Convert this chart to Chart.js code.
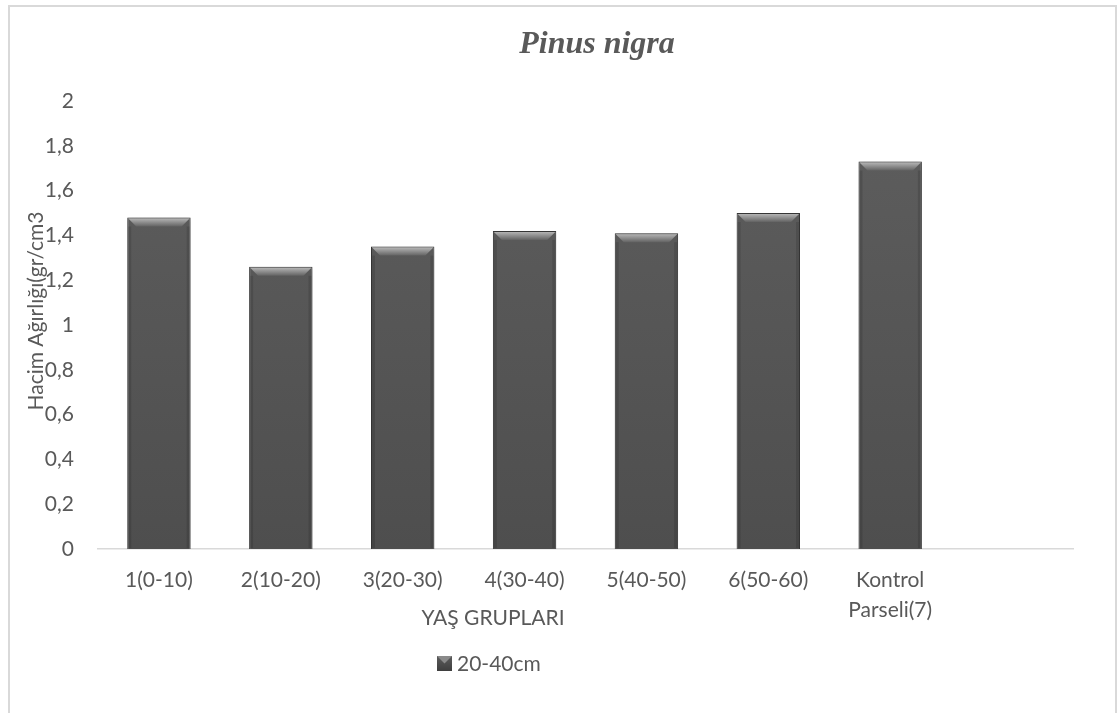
<!DOCTYPE html>
<html>
<head>
<meta charset="utf-8">
<title>Pinus nigra</title>
<script src="https://cdn.jsdelivr.net/npm/chart.js@4.4.1/dist/chart.umd.min.js"></script>
<style>
    body { margin: 0; background: #fff; }
    #frame { position: absolute; left: 8px; top: 5px; width: 1105px; height: 720px; border: 2px solid #d9d9d9; }
    #chart { position: absolute; left: 0; top: 0; }
</style>
</head>
<body>
<div id="frame"></div>
<canvas id="chart" width="1117" height="713"></canvas>
<script>
// Données du graphique
const categories = ['1(0-10)', '2(10-20)', '3(20-30)', '4(30-40)', '5(40-50)', '6(50-60)', ['Kontrol', 'Parseli(7)'], ''];
const values2040 = [1.48, 1.26, 1.35, 1.42, 1.41, 1.50, 1.73];
const seriesName = '20-40cm';
const chartTitle = 'Pinus nigra';
const xTitle = 'YAŞ GRUPLARI';
const yTitle = 'Hacim Ağırlığı(gr/cm3';
const yMin = 0;
const yMax = 2;
const yStep = 0.2;

const textColor = '#595959';
const baseFont = 'Lato';

// Dégradé des barres (gris foncé)
function barGradient(ctx) {
    const chart = ctx.chart;
    const area = chart.chartArea;
    if (!area) return '#555555';
    const g = chart.ctx.createLinearGradient(0, area.top, 0, area.bottom);
    g.addColorStop(0, '#5e5e5e');
    g.addColorStop(1, '#4e4e4e');
    return g;
}

// Ombre légère sous les barres + biseau en haut
const bevelPlugin = {
    id: 'bevel',
    beforeDatasetsDraw(chart) {
        const c = chart.ctx;
        c.save();
        c.shadowColor = 'rgba(0,0,0,0.3)';
        c.shadowBlur = 4;
        c.shadowOffsetY = 1;
    },
    afterDatasetsDraw(chart) {
        chart.ctx.restore();
        const c = chart.ctx;
        const meta = chart.getDatasetMeta(0);
        meta.data.forEach(bar => {
            const left = bar.x - bar.width / 2 + 1;
            const right = bar.x + bar.width / 2 - 1;
            const top = bar.y + 1;
            const d = 8;
            const g = c.createLinearGradient(0, top, 0, top + d);
            g.addColorStop(0, '#b4b4b4');
            g.addColorStop(0.5, '#8c8c8c');
            g.addColorStop(1, '#636363');
            c.save();
            c.beginPath();
            c.moveTo(left, top);
            c.lineTo(right, top);
            c.lineTo(right - d, top + d);
            c.lineTo(left + d, top + d);
            c.closePath();
            c.fillStyle = g;
            c.fill();
            // bords latéraux plus sombres
            c.fillStyle = 'rgba(0,0,0,0.12)';
            c.fillRect(left, top + d, 3, bar.base - top - d - 1);
            c.fillRect(right - 3, top + d, 3, bar.base - top - d - 1);
            c.restore();
        });
    }
};

// Titres et légende dessinés à la main (positions comme dans l'original)
const textPlugin = {
    id: 'texts',
    afterDraw(chart) {
        const c = chart.ctx;
        c.save();
        c.fillStyle = textColor;

        // titre
        c.font = 'italic bold 32px "Liberation Serif"';
        c.textAlign = 'center';
        c.textBaseline = 'alphabetic';
        c.fillText(chartTitle, 597, 53);

        // titre de l'axe X
        c.font = '21px ' + baseFont;
        c.textBaseline = 'middle';
        c.fillText(xTitle, 493, 618);

        // titre de l'axe Y
        c.save();
        c.translate(36, 311);
        c.rotate(-Math.PI / 2);
        c.fillText(yTitle, 0, 0);
        c.restore();

        // légende
        const bx = 437, by = 656, bs = 15;
        const g = c.createLinearGradient(0, by, 0, by + bs);
        g.addColorStop(0, '#5c5c5c');
        g.addColorStop(1, '#3e3e3e');
        c.fillStyle = g;
        c.fillRect(bx, by, bs, bs);
        c.beginPath();
        c.moveTo(bx, by);
        c.lineTo(bx + bs, by);
        c.lineTo(bx + bs / 2, by + bs / 2);
        c.closePath();
        c.fillStyle = '#8a8a8a';
        c.fill();
        c.fillStyle = textColor;
        c.textAlign = 'left';
        c.fillText(seriesName, 457, 664);

        c.restore();
    }
};

document.addEventListener('DOMContentLoaded', () => {
    const ctx = document.getElementById('chart').getContext('2d');
    new Chart(ctx, {
        type: 'bar',
        data: {
            labels: categories,
            datasets: [{
                label: seriesName,
                data: values2040,
                backgroundColor: barGradient,
                borderColor: '#3a3a3a',
                borderWidth: 1,
                barPercentage: 0.52,
                categoryPercentage: 1
            }]
        },
        options: {
            responsive: false,
            animation: false,
            layout: { padding: { top: 101, right: 44, bottom: 64, left: 0 } },
            plugins: {
                legend: { display: false },
                title: { display: false },
                tooltip: { enabled: false }
            },
            scales: {
                x: {
                    afterFit: scale => { scale.height = 100; },
                    grid: { display: false, drawTicks: false },
                    border: { display: true, color: '#d9d9d9', width: 1.5 },
                    ticks: {
                        color: textColor,
                        font: { family: baseFont, size: 21, lineHeight: 1.45 },
                        padding: 16,
                        maxRotation: 0,
                        autoSkip: false
                    }
                },
                y: {
                    min: yMin,
                    max: yMax,
                    afterFit: scale => { scale.width = 98; },
                    grid: { display: false, drawTicks: false },
                    border: { display: false },
                    ticks: {
                        stepSize: yStep,
                        color: textColor,
                        font: { family: baseFont, size: 21 },
                        padding: 24,
                        callback: v => Number(v.toFixed(1)).toString().replace('.', ',')
                    }
                }
            }
        },
        plugins: [bevelPlugin, textPlugin]
    });
});
</script>
</body>
</html>
